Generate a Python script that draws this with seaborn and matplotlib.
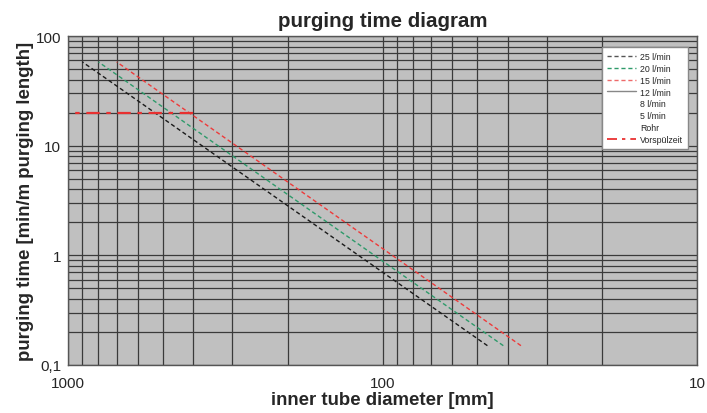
import matplotlib
matplotlib.use("Agg")
import matplotlib.pyplot as plt
import seaborn as sns
import pandas as pd
from matplotlib.lines import Line2D
from matplotlib.ticker import LogLocator, NullFormatter

# line end points (diameter mm, minutes per m)
d_25 = [900, 46.4]
t_25 = [58, 0.15]
d_20 = [800, 41.3]
t_20 = [58, 0.15]
d_15 = [700, 36.3]
t_15 = [58, 0.15]
d_vor = [1000, 400]
t_vor = [20, 20]

ytick_vals = [0.1, 1, 10, 100]
ytick_labels = ["0,1", "1", "10", "100"]
xtick_vals = [1000, 100, 10]
xtick_labels = ["1000", "100", "10"]

sns.set_style("white")
plt.rcParams["font.family"] = ["Liberation Sans", "DejaVu Sans"]

fig = plt.figure(figsize=(7.07, 4.14), dpi=100)
ax = fig.add_axes([0.0962, 0.116, 0.8897, 0.7946])
ax.set_facecolor("#c0c0c0")
ax.set_xscale("log")
ax.set_yscale("log")

df = pd.DataFrame({"d": d_25, "t": t_25})
sns.lineplot(data=df, x="d", y="t", ax=ax, color="#1a1a1a", linestyle=(0, (3, 2)), lw=1)
df = pd.DataFrame({"d": d_20, "t": t_20})
sns.lineplot(data=df, x="d", y="t", ax=ax, color="#2e9a6a", linestyle=(0, (3, 2)), lw=1)
df = pd.DataFrame({"d": d_15, "t": t_15})
sns.lineplot(data=df, x="d", y="t", ax=ax, color="#ee3a3a", linestyle=(0, (3, 2)), lw=1)
df = pd.DataFrame({"d": d_vor, "t": t_vor})
sns.lineplot(data=df, x="d", y="t", ax=ax, color="#e83030", linestyle=(0, (6, 3, 2, 3)), lw=1.6)

ax.set_xlim(1000, 10)
ax.set_ylim(0.1, 100)

ax.xaxis.set_minor_locator(LogLocator(base=10, subs=range(2, 10)))
ax.yaxis.set_minor_locator(LogLocator(base=10, subs=range(2, 10)))
ax.xaxis.set_minor_formatter(NullFormatter())
ax.yaxis.set_minor_formatter(NullFormatter())
ax.set_xticks(xtick_vals)
ax.set_xticklabels(xtick_labels)
ax.set_yticks(ytick_vals)
ax.set_yticklabels(ytick_labels)
ax.grid(True, which="both", color="#3a3a3a", lw=0.9)
ax.tick_params(which="both", length=0, labelsize=11)
ax.tick_params(axis="x", pad=8)
ax.tick_params(axis="y", pad=5)
for s in ax.spines.values():
    s.set_color("#555555")
    s.set_linewidth(1)

ax.set_title("purging time diagram", fontsize=14.8, fontweight="bold", pad=7)
ax.set_xlabel("inner tube diameter [mm]", fontsize=13.4, fontweight="bold", labelpad=1)
ax.set_ylabel("purging time [min/m purging length]", fontsize=13.4, fontweight="bold", labelpad=1)

handles = [
    Line2D([], [], color="#555555", linestyle=(0, (3, 2)), lw=1),
    Line2D([], [], color="#2e9a6a", linestyle=(0, (3, 2)), lw=1),
    Line2D([], [], color="#ee6a6a", linestyle=(0, (3, 2)), lw=1),
    Line2D([], [], color="#888888", lw=1),
    Line2D([], [], color="none"),
    Line2D([], [], color="none"),
    Line2D([], [], color="none"),
    Line2D([], [], color="#e82020", linestyle=(0, (6, 3, 2, 3)), lw=1.2),
]
labels = ["25 l/min", "20 l/min", "15 l/min", "12 l/min", "8 l/min", "5 l/min", "Rohr", "Vorspülzeit"]
leg = ax.legend(handles, labels, loc="upper right", bbox_to_anchor=(0.992, 0.979), fontsize=6.3,
                frameon=True, fancybox=False, edgecolor="#888888", framealpha=1,
                handlelength=3.4, handletextpad=0.4, labelspacing=0.32, borderpad=0.55)
leg.get_frame().set_linewidth(1)

fig.savefig("out.png", dpi=100)
